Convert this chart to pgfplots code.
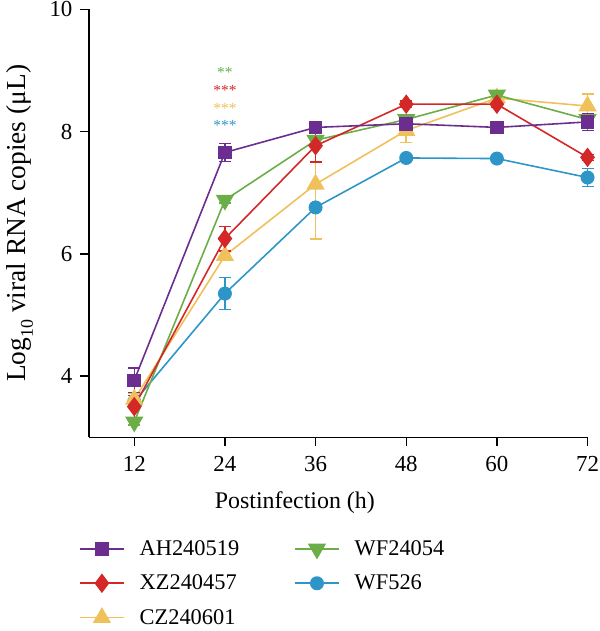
\documentclass[border=0pt]{standalone}
\usepackage{pgfplots}
\pgfplotsset{compat=1.18}
\usepackage{fontspec}
\setmainfont{Liberation Serif}
\definecolor{cPur}{RGB}{107,45,143}
\definecolor{cRed}{RGB}{212,40,40}
\definecolor{cYel}{RGB}{240,192,90}
\definecolor{cGrn}{RGB}{107,174,71}
\definecolor{cBlu}{RGB}{46,149,201}
\begin{document}
\begin{tikzpicture}
\useasboundingbox (-89bp,-194bp) rectangle (511bp,437.5bp);
\clip (-89bp,-194bp) rectangle (511bp,437.5bp);
\begin{axis}[
  scale only axis, width=499bp, height=428bp,
  at={(0,0)}, anchor=south west,
  xmin=6, xmax=72, ymin=3, ymax=10,
  axis lines=left, axis line style={-, line width=1.3pt, black},
  xtick={12,24,36,48,60,72}, ytick={4,6,8,10},
  tick align=outside, major tick length=9bp,
  tick style={line width=1.3pt, black},
  /pgf/number format/assume math mode=true,
  tick label style={font=\fontsize{23}{27}\selectfont},
  xticklabel style={yshift=-7bp},
  yticklabel style={xshift=-4bp},
  xlabel={Postinfection (h)},
  ylabel={Log\raisebox{-0.28em}{\fontsize{18}{18}\selectfont 10} viral RNA copies (μL)},
  xlabel style={font=\fontsize{24}{28}\selectfont, at={(axis description cs:0.413,-0.153)}, anchor=center},
  ylabel style={font=\fontsize{27.5}{31}\selectfont, at={(axis description cs:-0.128,0.5)}, anchor=base},
  clip=false,
  every axis plot/.append style={line width=1.6pt},
  error bars/error bar style={line width=1.5pt},
  error bars/error mark options={rotate=90, mark size=6bp, line width=1.5pt},
  legend columns=2,
  legend style={draw=none, fill=none, at={(axis description cs:-0.026,-0.230)}, anchor=north west,
    font=\fontsize{22.5}{26}\selectfont, row sep=12bp,
    /tikz/every odd column/.append style={column sep=12bp},
    /tikz/every even column/.append style={column sep=52bp},
    nodes={inner sep=3bp}},
  legend cell align=left,
  legend image code/.code={\draw[mark repeat=2,mark phase=2] plot coordinates {(0bp,0bp)(22bp,0bp)(44bp,0bp)};},
]
% WF526 blue
\addplot[forget plot, cBlu, mark=*, mark size=6.2bp, mark options={solid},
  error bars/.cd, y dir=both, y explicit] coordinates {
  (12,3.58) +- (0,0.05) (24,5.35) +- (0,0.26) (36,6.76) +- (0,0.05)
  (48,7.57) +- (0,0.03) (60,7.56) +- (0,0.03) (72,7.25) +- (0,0.15)};
% CZ240601 yellow
\addplot[forget plot, cYel, mark=triangle*, mark size=9bp, mark options={solid},
  error bars/.cd, y dir=both, y explicit] coordinates {
  (12,3.62) +- (0,0.1) (24,5.97) +- (0,0.08) (36,7.14) +- (0,0.9)
  (48,8.02) +- (0,0.2) (60,8.55) +- (0,0.05) (72,8.42) +- (0,0.2)};
% WF24054 green
\addplot[forget plot, cGrn, mark=triangle*, mark size=9bp, mark options={solid, rotate=180},
  error bars/.cd, y dir=both, y explicit] coordinates {
  (12,3.25) +- (0,0.05) (24,6.88) +- (0,0.05) (36,7.86) +- (0,0.05)
  (48,8.2) +- (0,0.05) (60,8.6) +- (0,0.05) (72,8.2) +- (0,0.05)};
% XZ240457 red
\addplot[forget plot, cRed, mark=diamond*, mark size=8.5bp, mark options={solid},
  error bars/.cd, y dir=both, y explicit] coordinates {
  (12,3.50) +- (0,0.18) (24,6.25) +- (0,0.2) (36,7.77) +- (0,0.27)
  (48,8.45) +- (0,0.05) (60,8.45) +- (0,0.05) (72,7.58) +- (0,0.05)};
% AH240519 purple
\addplot[forget plot, cPur, mark=square*, mark size=6bp, mark options={solid},
  error bars/.cd, y dir=both, y explicit] coordinates {
  (12,3.93) +- (0,0.2) (24,7.66) +- (0,0.15) (36,8.07) +- (0,0.08)
  (48,8.13) +- (0,0.1) (60,8.07) +- (0,0.05) (72,8.16) +- (0,0.14)};
\addlegendimage{cPur, line width=1.6pt, mark=square*, mark size=6bp}
\addlegendentry{AH240519}
\addlegendimage{cGrn, line width=1.6pt, mark=triangle*, mark size=9bp, mark options={rotate=180}}
\addlegendentry{WF24054}
\addlegendimage{cRed, line width=1.6pt, mark=diamond*, mark size=8.5bp}
\addlegendentry{XZ240457}
\addlegendimage{cBlu, line width=1.6pt, mark=*, mark size=6.2bp}
\addlegendentry{WF526}
\addlegendimage{cYel, line width=1.6pt, mark=triangle*, mark size=9bp}
\addlegendentry{CZ240601}
\node[inner sep=0pt, align=center, anchor=north, font=\fontsize{15.5}{17.8}\selectfont]
  at (axis cs:24,9.05)
  {\textcolor{cGrn}{**}\\\textcolor{cRed}{***}\\\textcolor{cYel}{***}\\\textcolor{cBlu}{***}};
\end{axis}
\end{tikzpicture}
\end{document}
